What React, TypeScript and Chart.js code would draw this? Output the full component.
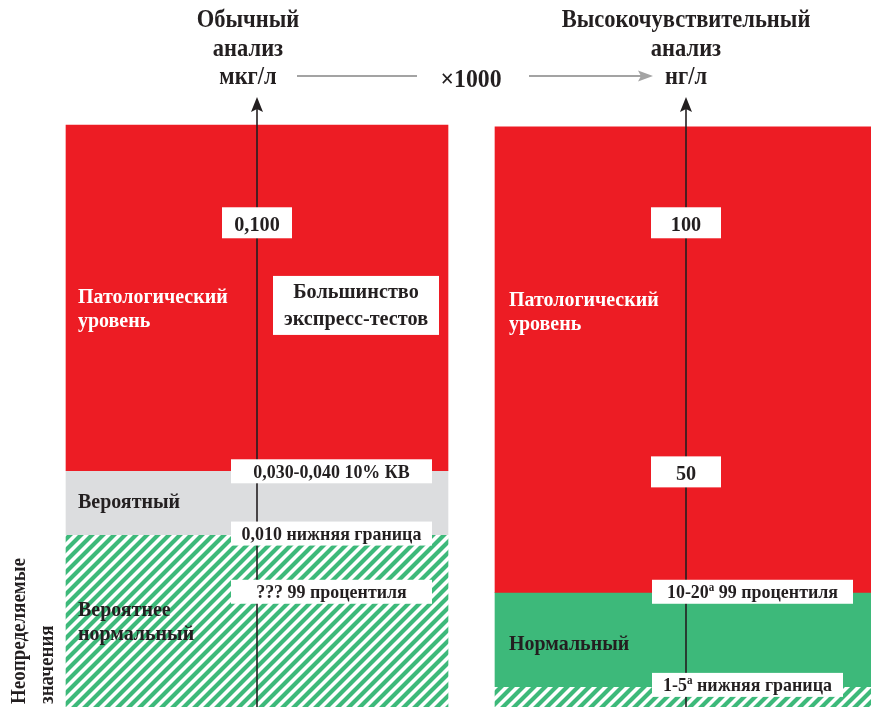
import React, { useEffect, useRef } from 'react';
import { Chart, registerables } from 'chart.js';

Chart.register(...registerables);

// ---------- data (schematic level scale 0..100, bottom to top) ----------
const assays = ['Обычный анализ', 'Высокочувствительный анализ'];

const leftPathologicalRange = [40.6, 100];
const leftProbableRange = [29.6, 40.6];
const leftLikelyNormalRange = [0, 29.6];

const rightPathologicalRange = [19.7, 99.7];
const rightNormalRange = [3.5, 19.7];
const rightUndetectableRange = [0, 3.5];

const leftMarkerLevels = [83.2, 40.5, 29.8, 19.8];
const leftMarkerLabels = ['0,100', '0,030-0,040 10% КВ', '0,010 нижняя граница', '??? 99 процентиля'];
const rightMarkerLevels = [83.2, 40.4, 19.8, 3.8];
const rightMarkerLabels = ['100', '50', '10-20^а 99 процентиля', '1-5^а нижняя граница'];

const leftRegionLevels = [69.4, 34.2, 15.6];
const leftRegionLabels = [['Патологический', 'уровень'], ['Вероятный'], ['Вероятнее', 'нормальный']];
const rightRegionLevels = [68.9, 9.8];
const rightRegionLabels = [['Патологический', 'уровень'], ['Нормальный']];

const noteLevel = 69.0;
const noteLines = ['Большинство', 'экспресс-тестов'];

const leftHeading = ['Обычный', 'анализ', 'мкг/л'];
const rightHeading = ['Высокочувствительный', 'анализ', 'нг/л'];
const factorLabel = '×1000';
const sideLabel = ['Неопределяемые', 'значения'];

// ---------- styles ----------
const RED = '#ED1C24';
const GRAY = '#DCDDDF';
const GREEN = '#3DB97A';
const INK = '#231F20';
const FONT = '"Liberation Serif", "Times New Roman", serif';
const leftBoxWidths = [70, 201, 201, 201];
const rightBoxWidths = [70, 70, 201, 191];

function makeHatch(): CanvasPattern | string {
  const s = 11;
  const c = document.createElement('canvas');
  c.width = s;
  c.height = s;
  const g = c.getContext('2d');
  if (!g) return GREEN;
  g.fillStyle = '#ffffff';
  g.fillRect(0, 0, s, s);
  g.strokeStyle = GREEN;
  g.lineWidth = 4.2;
  g.beginPath();
  for (const o of [-s, 0, s]) {
    g.moveTo(o - 3, s + 3);
    g.lineTo(o + s + 3, -3);
  }
  g.stroke();
  return g.createPattern(c, 'repeat') || GREEN;
}

function txt(ctx: CanvasRenderingContext2D, s: string, x: number, y: number, size: number, color: string, align: CanvasTextAlign = 'left', sx = 0.92) {
  ctx.save();
  ctx.font = `bold ${size}px ${FONT}`;
  ctx.fillStyle = color;
  ctx.textAlign = align;
  ctx.textBaseline = 'alphabetic';
  ctx.translate(x, y);
  ctx.scale(sx, 1);
  ctx.fillText(s, 0, 0);
  ctx.restore();
}

function rich(ctx: CanvasRenderingContext2D, text: string, cx: number, y: number, size: number, color: string, sx = 0.92) {
  const parts: { t: string; sup: boolean }[] = [];
  const re = /\^(.)/g;
  let last = 0;
  let m: RegExpExecArray | null;
  while ((m = re.exec(text))) {
    parts.push({ t: text.slice(last, m.index), sup: false });
    parts.push({ t: m[1], sup: true });
    last = re.lastIndex;
  }
  parts.push({ t: text.slice(last), sup: false });
  ctx.save();
  const widths = parts.map((p) => {
    ctx.font = `bold ${p.sup ? Math.round(size * 0.6) : size}px ${FONT}`;
    return ctx.measureText(p.t).width * sx;
  });
  const total = widths.reduce((a, b) => a + b, 0);
  let x = cx - total / 2;
  parts.forEach((p, i) => {
    txt(ctx, p.t, x, p.sup ? y - size * 0.36 : y, p.sup ? Math.round(size * 0.6) : size, color, 'left', sx);
    x += widths[i];
  });
  ctx.restore();
}

function arrowUp(ctx: CanvasRenderingContext2D, x: number, tip: number, bottom: number) {
  ctx.save();
  ctx.strokeStyle = INK;
  ctx.lineWidth = 1.6;
  ctx.beginPath();
  ctx.moveTo(x, tip + 8);
  ctx.lineTo(x, bottom);
  ctx.stroke();
  ctx.fillStyle = INK;
  ctx.beginPath();
  ctx.moveTo(x, tip);
  ctx.lineTo(x + 6, tip + 15);
  ctx.lineTo(x, tip + 12);
  ctx.lineTo(x - 6, tip + 15);
  ctx.closePath();
  ctx.fill();
  ctx.restore();
}

const diagramPlugin = {
  id: 'diagram',
  afterDatasetsDraw(chart: any) {
    const ctx: CanvasRenderingContext2D = chart.ctx;
    const xs = chart.scales.x;
    const ys = chart.scales.y;
    const axL = xs.getPixelForValue(0);
    const axR = xs.getPixelForValue(1) + 3;
    const bottom = chart.chartArea.bottom;

    arrowUp(ctx, axL, 97, bottom);
    arrowUp(ctx, axR, 97, bottom);

    // region labels
    leftRegionLabels.forEach((lines, i) => {
      const yy = ys.getPixelForValue(leftRegionLevels[i]);
      const col = i === 0 ? '#FFFFFF' : INK;
      lines.forEach((l, j) => txt(ctx, l, 78, yy + j * 24, 21, col, 'left', 0.95));
    });
    rightRegionLabels.forEach((lines, i) => {
      const yy = ys.getPixelForValue(rightRegionLevels[i]);
      const col = i === 0 ? '#FFFFFF' : INK;
      lines.forEach((l, j) => txt(ctx, l, 509, yy + j * 24, 21, col, 'left', 0.95));
    });

    // note box
    const ny = ys.getPixelForValue(noteLevel);
    ctx.fillStyle = '#FFFFFF';
    ctx.fillRect(273, ny - 29.5, 166, 59);
    noteLines.forEach((l, j) => txt(ctx, l, 356, ny - 7 + j * 27, 22, INK, 'center'));

    // marker boxes
    const drawMarkers = (levels: number[], labels: string[], widths: number[], ax: number, longOffset: number) => {
      labels.forEach((lab, i) => {
        const yy = ys.getPixelForValue(levels[i]);
        const w = widths[i];
        const isShort = w < 100;
        const h = isShort ? 31 : 24;
        const left = isShort ? ax - w / 2 : ax + longOffset;
        ctx.fillStyle = '#FFFFFF';
        ctx.fillRect(left, yy - h / 2, w, h);
        rich(ctx, lab, left + w / 2, yy + (isShort ? 8 : 6.5), isShort ? 22 : 19.5, INK);
      });
    };
    drawMarkers(leftMarkerLevels, leftMarkerLabels, leftBoxWidths, axL, -26);
    drawMarkers(rightMarkerLevels, rightMarkerLabels, rightBoxWidths, axR, -34);
  },
  afterDraw(chart: any) {
    const ctx: CanvasRenderingContext2D = chart.ctx;
    const base = [27, 56, 84];
    leftHeading.forEach((l, i) => txt(ctx, l, 248, base[i], 25, INK, 'center', 0.9));
    rightHeading.forEach((l, i) => txt(ctx, l, 686, base[i], 25, INK, 'center', 0.9));
    txt(ctx, factorLabel, 471, 87, 25, INK, 'center', 0.95);

    ctx.save();
    ctx.strokeStyle = '#A3A3A3';
    ctx.lineWidth = 2;
    ctx.beginPath();
    ctx.moveTo(297, 76);
    ctx.lineTo(417, 76);
    ctx.moveTo(529, 76);
    ctx.lineTo(642, 76);
    ctx.stroke();
    ctx.fillStyle = '#A3A3A3';
    ctx.beginPath();
    ctx.moveTo(653, 76);
    ctx.lineTo(638, 70.5);
    ctx.lineTo(641, 76);
    ctx.lineTo(638, 81.5);
    ctx.closePath();
    ctx.fill();
    ctx.restore();

    // rotated side label
    ctx.save();
    ctx.translate(25, 704);
    ctx.rotate(-Math.PI / 2);
    txt(ctx, sideLabel[0], 0, 0, 20, INK, 'left', 0.95);
    txt(ctx, sideLabel[1], 0, 28, 20, INK, 'left', 0.95);
    ctx.restore();
  },
};

export default function App() {
  const ref = useRef<HTMLCanvasElement | null>(null);
  useEffect(() => {
    if (!ref.current) return;
    const hatch = makeHatch();
    const L = (r: number[]) => [r, null];
    const R = (r: number[]) => [null, r];
    const common = { grouped: false, clip: false as any, borderWidth: 0, borderSkipped: false as any };
    const chart = new Chart(ref.current, {
      type: 'bar',
      data: {
        labels: assays,
        datasets: [
          { label: 'Патологический уровень', data: L(leftPathologicalRange) as any, backgroundColor: RED, barThickness: 382, ...common },
          { label: 'Вероятный', data: L(leftProbableRange) as any, backgroundColor: GRAY, barThickness: 382, ...common },
          { label: 'Вероятнее нормальный', data: L(leftLikelyNormalRange) as any, backgroundColor: hatch as any, barThickness: 382, ...common },
          { label: 'Патологический уровень (вч)', data: R(rightPathologicalRange) as any, backgroundColor: RED, barThickness: 376, ...common },
          { label: 'Нормальный', data: R(rightNormalRange) as any, backgroundColor: GREEN, barThickness: 376, ...common },
          { label: 'Неопределяемые', data: R(rightUndetectableRange) as any, backgroundColor: hatch as any, barThickness: 376, ...common },
        ],
      },
      options: {
        animation: false,
        responsive: false,
        maintainAspectRatio: false,
        layout: { padding: { left: 257, right: 188, top: 125, bottom: 0 } },
        plugins: { legend: { display: false }, tooltip: { enabled: false }, title: { display: false } },
        scales: {
          x: { type: 'category', offset: false, display: false, grid: { display: false } },
          y: { type: 'linear', min: 0, max: 100, display: false, grid: { display: false } },
        },
      },
      plugins: [diagramPlugin],
    });
    return () => chart.destroy();
  }, []);
  return (
    <div style={{ position: 'fixed', left: 0, top: 0, width: 871, height: 707, background: '#fff' }}>
      <canvas ref={ref} width={871} height={707} style={{ display: 'block' }} />
    </div>
  );
}
